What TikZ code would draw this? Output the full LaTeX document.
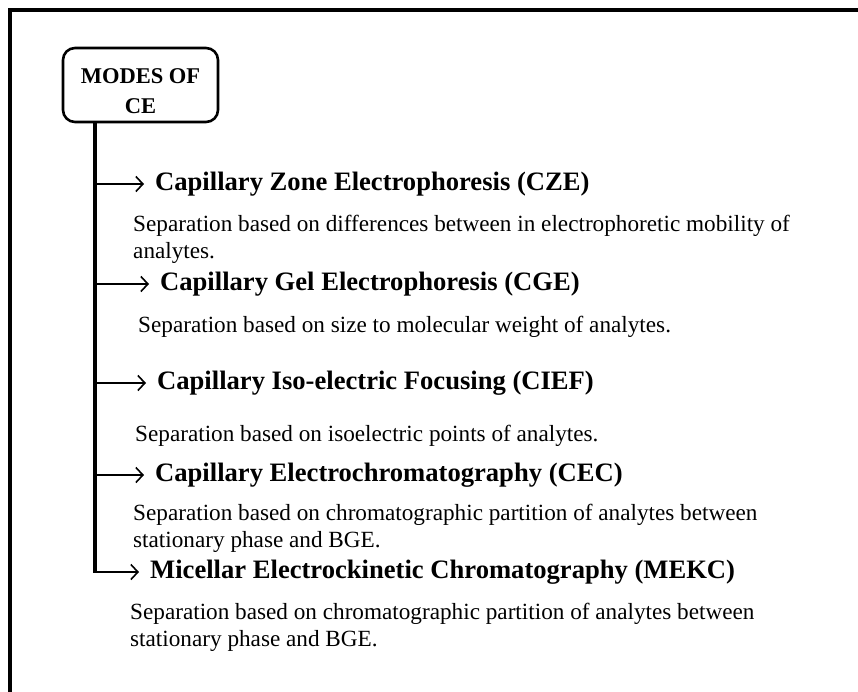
\documentclass[tikz,border=0pt]{standalone}
\usepackage{fontspec}
\setmainfont{Liberation Serif}
\usetikzlibrary{arrows.meta}
\tikzset{
  modetitle/.style={anchor=west,inner sep=0pt,font=\bfseries\fontsize{26.6}{30}\selectfont},
  modetext/.style={anchor=west,inner sep=0pt,align=left,font=\fontsize{23.2}{27}\selectfont},
  branch/.style={line width=1.6pt,-{Straight Barb[length=7pt,width=15pt]},shorten >=11pt},
}
\begin{document}
\begin{tikzpicture}[x=1pt,y=-1pt]
\useasboundingbox (0,0) rectangle (858,692);
% outer frame (cut by the page)
  \draw[line width=3.5pt] (870,10) -- (10,10) -- (10,704);
% root box
  \node[draw,line width=2.6pt,rounded corners=12pt,minimum width=155pt,minimum height=74pt] (modes) at (140.5,85) {};
  \node[align=center,font=\bfseries\fontsize{22.5}{30}\selectfont] (modeslbl) at (140.5,91) {MODES OF\\CE};
%% trunk
  \coordinate (trunkend) at (95,571);
  \draw[line width=4pt] (modes.south -| trunkend) -- ([yshift=-2pt]trunkend);
% titles
  \node[modetitle] (cze)  at (155,184) {Capillary Zone Electrophoresis (CZE)};
  \node[modetitle] (cge)  at (160,284) {Capillary Gel Electrophoresis (CGE)};
  \node[modetitle] (cief) at (157,383) {Capillary Iso-electric Focusing (CIEF)};
  \node[modetitle] (cec)  at (155,475) {Capillary Electrochromatography (CEC)};
  \node[modetitle] (mekc) at (150,572) {Micellar Electrockinetic Chromatography (MEKC)};
% descriptions
  \node[modetext] (czetxt)  at (133,239) {Separation based on differences between in electrophoretic mobility of\\analytes.};
  \node[modetext] (cgetxt)  at (138,327) {Separation based on size to molecular weight of analytes.};
  \node[modetext] (cieftxt) at (135,436) {Separation based on isoelectric points of analytes.};
  \node[modetext] (cectxt)  at (133,528) {Separation based on chromatographic partition of analytes between\\stationary phase and BGE.};
  \node[modetext] (mekctxt) at (130,627) {Separation based on chromatographic partition of analytes between\\stationary phase and BGE.};
% branches
  \foreach \m in {cze,cge,cief,cec}
    \draw[branch] (trunkend |- \m.west) -- (\m.west);
  \draw[branch] ([xshift=-2pt]trunkend |- mekc.west) -- (mekc.west);
\end{tikzpicture}
\end{document}
